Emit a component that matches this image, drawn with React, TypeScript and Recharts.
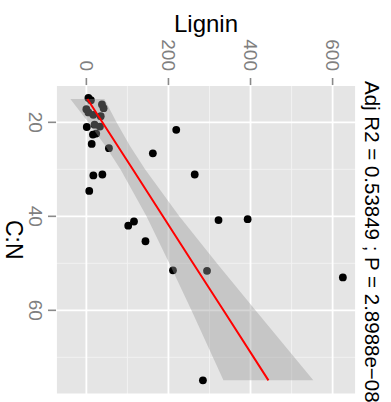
import React from 'react';
import { ComposedChart, Scatter, Area, Line, XAxis, YAxis, CartesianGrid } from 'recharts';

// observations
const cnPoints = [14.8, 15.3, 16.2, 17.0, 17.2, 17.9, 18.4, 18.7, 21.0, 20.5, 20.9, 22.6, 22.4, 24.6, 25.5, 31.3, 31.1, 34.6, 21.6, 26.6, 31.1, 42.0, 41.1, 45.3, 51.5, 51.6, 40.8, 40.6, 53.0, 74.9];
const ligninPoints = [5, 11, 38, 42, 0, 5, 17, 35, 1, 20, 33, 16, 24, 13, 55, 17, 39, 7, 219, 162, 264, 102, 116, 144, 211, 294, 322, 393, 625, 284];

// lm fit + 95% band
const fitCn = [15.04, 20, 25, 30, 40, 50, 60, 74.9];
const fitLignin = [2.5, 39, 76, 113, 186.5, 260, 334, 443.7];
const bandLow = [-39, 4.6, 46, 83, 146.5, 202, 256, 334];
const bandHigh = [44, 73.4, 106, 143, 226.5, 318, 412, 553];

const cnTicks = [20, 40, 60];
const cnMinor = [30, 50, 70];
const ligninTicks = [0, 200, 400, 600];
const ligninMinor = [100, 300, 500];

const cnDomain = [12.06, 77.91];
const ligninDomain = [-74, 657];

const title = 'Adj R2 =  0.53849 ; P = 2.8988e\u221208';

const points = cnPoints.map((cn, i) => ({ cn, lignin: ligninPoints[i] }));
const fitRows = fitCn.map((cn, i) => ({ cn, fit: fitLignin[i], band: [bandLow[i], bandHigh[i]] }));

const FONT = '"Liberation Sans", Arial, sans-serif';
const W = 402;
const H = 391;

const CnTick = (props: any) => (
  <text x={props.x} y={props.y} dy="0.71em" textAnchor="middle" fill="#7F7F7F" fontSize={19} fontFamily={FONT}>
    {props.payload.value}
  </text>
);

const LigninTick = (props: any) => (
  <text x={props.x} y={props.y} dy="0.35em" textAnchor="end" fill="#7F7F7F" fontSize={19} fontFamily={FONT}>
    {props.payload.value}
  </text>
);

const Dot = (props: any) => <circle cx={props.cx} cy={props.cy} r={3.9} fill="#000000" />;

// minor grid positions, mapped with the same linear domains as the axes
const minorX = ({ offset }: any) =>
  offset ? cnMinor.map((v) => offset.left + ((v - cnDomain[0]) / (cnDomain[1] - cnDomain[0])) * offset.width) : [];
const minorY = ({ offset }: any) =>
  offset ? ligninMinor.map((v) => offset.top + ((ligninDomain[1] - v) / (ligninDomain[1] - ligninDomain[0])) * offset.height) : [];

export default function App() {
  return (
    <div style={{ position: 'absolute', left: 0, top: 0, width: H, height: W, overflow: 'hidden', background: '#fff' }}>
      {/* drawn in ggplot's usual orientation, then turned a quarter clockwise */}
      <div style={{ position: 'absolute', left: 0, top: 0, width: W, height: H, transformOrigin: '0 0', transform: `translateX(${H}px) rotate(90deg)` }}>
        <ComposedChart width={W} height={H} data={fitRows} margin={{ top: 35, right: 7.5, bottom: 0, left: 0 }}>
          <CartesianGrid fill="#E5E5E5" stroke="#F2F2F2" strokeWidth={1} verticalCoordinatesGenerator={minorX} horizontalCoordinatesGenerator={minorY} />
          <CartesianGrid stroke="#FFFFFF" strokeWidth={1.8} />
          <XAxis
            type="number"
            dataKey="cn"
            domain={cnDomain}
            allowDataOverflow
            ticks={cnTicks}
            height={56}
            axisLine={false}
            tickSize={8}
            tickMargin={6}
            tickLine={{ stroke: '#8A8A8A', strokeWidth: 1.6 }}
            tick={<CnTick />}
            label={{
              content: (p: any) => (
                <text x={p.viewBox.x + p.viewBox.width / 2} y={p.viewBox.y + 50} textAnchor="middle" fontSize={23} fontFamily={FONT} fill="#000">
                  C:N
                </text>
              ),
            }}
          />
          <YAxis
            type="number"
            domain={ligninDomain}
            allowDataOverflow
            ticks={ligninTicks}
            width={85}
            axisLine={false}
            tickSize={7}
            tickMargin={7}
            tickLine={{ stroke: '#8A8A8A', strokeWidth: 1.6 }}
            tick={<LigninTick />}
            label={{
              content: (p: any) => {
                const cy = p.viewBox.y + p.viewBox.height / 2;
                return (
                  <text x={31.5} y={cy} transform={`rotate(-90, 31.5, ${cy})`} textAnchor="middle" fontSize={24} fontFamily={FONT} fill="#000">
                    Lignin
                  </text>
                );
              },
            }}
          />
          <Scatter data={points} dataKey="lignin" shape={<Dot />} isAnimationActive={false} zIndex={50} />
          <Area dataKey="band" type="linear" stroke="none" fill="#999999" fillOpacity={0.4} isAnimationActive={false} zIndex={100} />
          <Line dataKey="fit" type="linear" stroke="#FF0000" strokeWidth={2} dot={false} activeDot={false} isAnimationActive={false} zIndex={400} />
        </ComposedChart>
        <svg width={W} height={35} style={{ position: 'absolute', left: 0, top: 0 }}>
          <text x={81} y={26.5} fontSize={20.5} fontFamily={FONT} fill="#000">
            {title}
          </text>
        </svg>
      </div>
    </div>
  );
}
